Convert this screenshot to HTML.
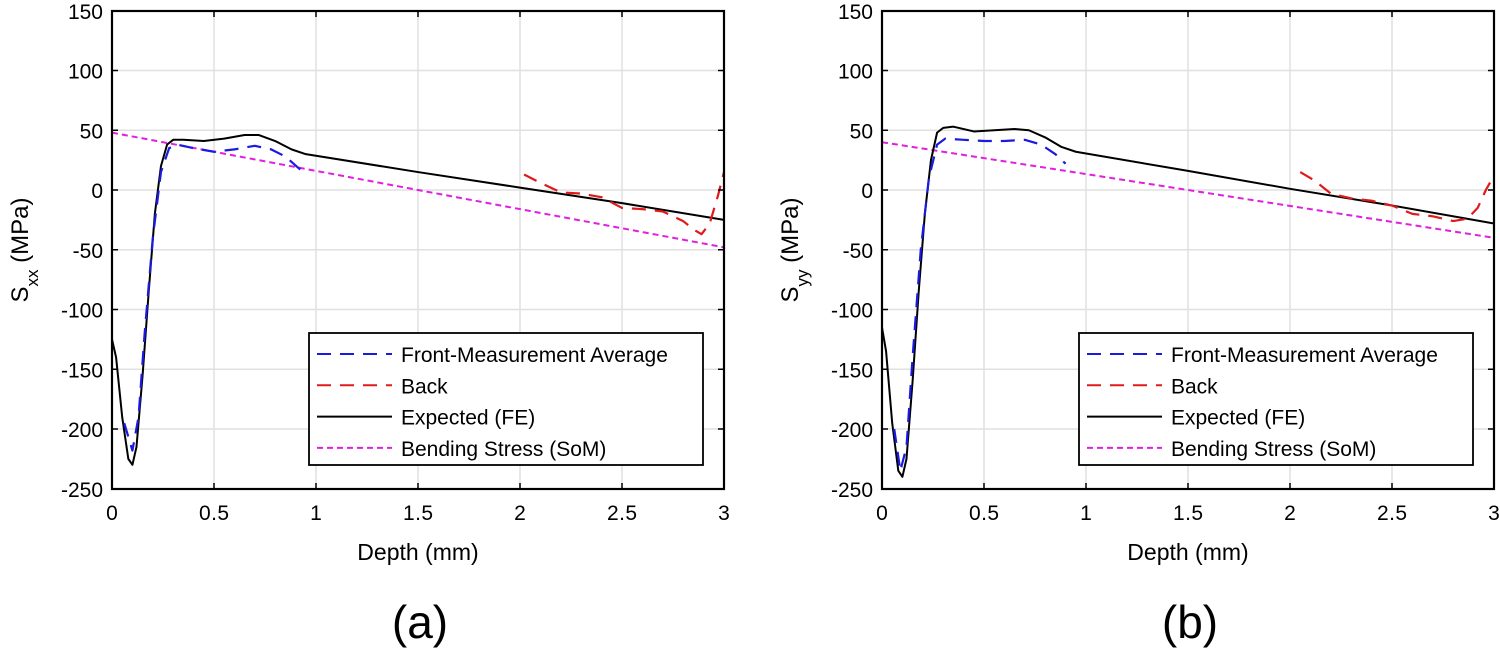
<!DOCTYPE html>
<html><head><meta charset="utf-8"><style>
body{margin:0;background:#fff}
svg{display:block;font-family:"Liberation Sans",Arial,sans-serif}
</style></head><body>
<svg id="s" width="1500" height="651" viewBox="0 0 1500 651"></svg>
<script>
const xTicks=[0,0.5,1,1.5,2,2.5,3];
const xTickLabels=["0","0.5","1","1.5","2","2.5","3"];
const yTicks=[150,100,50,0,-50,-100,-150,-200,-250];
const feA_x=[0,0.02,0.05,0.08,0.1,0.12,0.15,0.18,0.21,0.24,0.27,0.3,0.35,0.45,0.55,0.65,0.72,0.8,0.88,0.95,1.5,2,2.5,3];
const feA_y=[-125,-140,-190,-225,-230,-215,-155,-85,-20,20,38,42,42,41,43,46,46,41,34,30,15,2,-11,-25];
const frA_x=[0.06,0.1,0.13,0.16,0.2,0.24,0.28,0.32,0.4,0.5,0.6,0.7,0.78,0.85,0.93];
const frA_y=[-195,-218,-190,-120,-40,15,35,38,35,32,34,37,34,28,16];
const bkA_x=[2.02,2.1,2.2,2.3,2.4,2.5,2.6,2.7,2.8,2.85,2.89,2.93,2.97,3.0];
const bkA_y=[13,6,-2,-3,-6,-15,-16,-18,-26,-33,-37,-28,-5,15];
const bdA_x=[0,3];
const bdA_y=[48,-48];
const feB_x=[0,0.02,0.05,0.08,0.1,0.12,0.15,0.18,0.21,0.24,0.27,0.3,0.35,0.45,0.55,0.65,0.72,0.8,0.88,0.95,1.5,2,2.5,3];
const feB_y=[-115,-135,-195,-235,-240,-225,-160,-85,-20,25,48,52,53,49,50,51,50,44,36,32,16,1,-13,-28];
const frB_x=[0.06,0.09,0.12,0.15,0.19,0.23,0.27,0.31,0.4,0.5,0.6,0.7,0.78,0.85,0.9];
const frB_y=[-200,-235,-215,-140,-50,10,38,43,42,41,41,42,38,30,22];
const bkB_x=[2.05,2.12,2.2,2.3,2.4,2.5,2.6,2.7,2.8,2.87,2.92,2.96,3.0];
const bkB_y=[15,8,-3,-7,-9,-13,-20,-22,-26,-24,-15,0,12];
const bdB_x=[0,3];
const bdB_y=[40,-40];

const S=document.getElementById('s');const NS='http://www.w3.org/2000/svg';
function el(t,a,p){const e=document.createElementNS(NS,t);for(const k in a)e.setAttribute(k,a[k]);(p||S).appendChild(e);return e;}
function panel(x0,ylab,sub,fe,fr,bk,bd,tag){
  const x1=x0+612,y0=11,y1=489;
  const X=v=>x0+v/3*612, Y=v=>190-v*1.195;
  const g=el('g',{});
  
  
  xTicks.forEach((t,i)=>{const l=el('line',{x1:X(t),x2:X(t),y1:y0,y2:y1,stroke:'#e0e0e0','stroke-width':1.5},g);});
  yTicks.forEach(t=>{const l=el('line',{x1:x0,x2:x1,y1:Y(t),y2:Y(t),stroke:'#e0e0e0','stroke-width':1.5},g);});
  const path=(xs,ys,st,dash,w,name)=>{const p=el('polyline',{points:xs.map((x,i)=>X(x)+','+Y(ys[i])).join(' '),fill:'none',stroke:st,'stroke-width':w,'stroke-dasharray':dash,'stroke-linejoin':'round'},g);};
  path(bd[0],bd[1],'#e020e0','6 4',2,'bending-stress-line');
  path(fe[0],fe[1],'#000','none',2,'expected-fe-line');
  path(fr[0],fr[1],'#1a1ae0','14 9',2.2,'front-measurement-line');
  path(bk[0],bk[1],'#e01a1a','14 9',2.2,'back-line');
  const fr2=el('rect',{x:x0,y:y0,width:612,height:478,fill:'none',stroke:'#000','stroke-width':2.2},g);
  xTicks.forEach((t,i)=>{el('line',{x1:X(t),x2:X(t),y1:y1,y2:y1-6,stroke:'#000','stroke-width':1.5},g);el('line',{x1:X(t),x2:X(t),y1:y0,y2:y0+6,stroke:'#000','stroke-width':1.5},g);
    const tx=el('text',{x:X(t),y:y1+31,'text-anchor':'middle','font-size':21,'textLength':xTickLabels[i].length>1?30:12},g);tx.textContent=xTickLabels[i];});
  yTicks.forEach(t=>{el('line',{x1:x0,x2:x0+6,y1:Y(t),y2:Y(t),stroke:'#000','stroke-width':1.5},g);el('line',{x1:x1,x2:x1-6,y1:Y(t),y2:Y(t),stroke:'#000','stroke-width':1.5},g);
    const tx=el('text',{x:x0-9,y:Y(t)+8,'text-anchor':'end','font-size':21},g);tx.textContent=t;});
  const xl=el('text',{x:x0+306,y:560,'text-anchor':'middle','font-size':23},g);xl.textContent='Depth (mm)';
  const yl=el('text',{transform:`translate(${x0-84},250) rotate(-90)`,'text-anchor':'middle','font-size':24},g);yl.innerHTML='S<tspan baseline-shift="sub" font-size="17">'+ylab+'</tspan> (MPa)';
  const sl=el('text',{x:x0+308,y:638,'text-anchor':'middle','font-size':46},g);sl.textContent=sub;
  const lg=el('g',{},g);
  el('rect',{x:x0+197,y:333,width:394,height:132,fill:'#fff',stroke:'#000','stroke-width':1.8},lg);
  const items=[['Front-Measurement Average','#1a1ae0','14 9'],['Back','#e01a1a','14 9'],['Expected (FE)','#000','none'],['Bending Stress (SoM)','#e020e0','6 4']];
  items.forEach((it,i)=>{const yy=354+i*31.3;
    const ln=el('line',{x1:x0+205,x2:x0+280,y1:yy,y2:yy,stroke:it[1],'stroke-width':2,'stroke-dasharray':it[2]},lg);
    const tx=el('text',{x:x0+289,y:yy+8,'font-size':21},lg);tx.textContent=it[0];});
}
panel(112,'xx','(a)',[feA_x,feA_y],[frA_x,frA_y],[bkA_x,bkA_y],[bdA_x,bdA_y],'a');
panel(882,'yy','(b)',[feB_x,feB_y],[frB_x,frB_y],[bkB_x,bkB_y],[bdB_x,bdB_y],'b');
</script>
</body></html>
